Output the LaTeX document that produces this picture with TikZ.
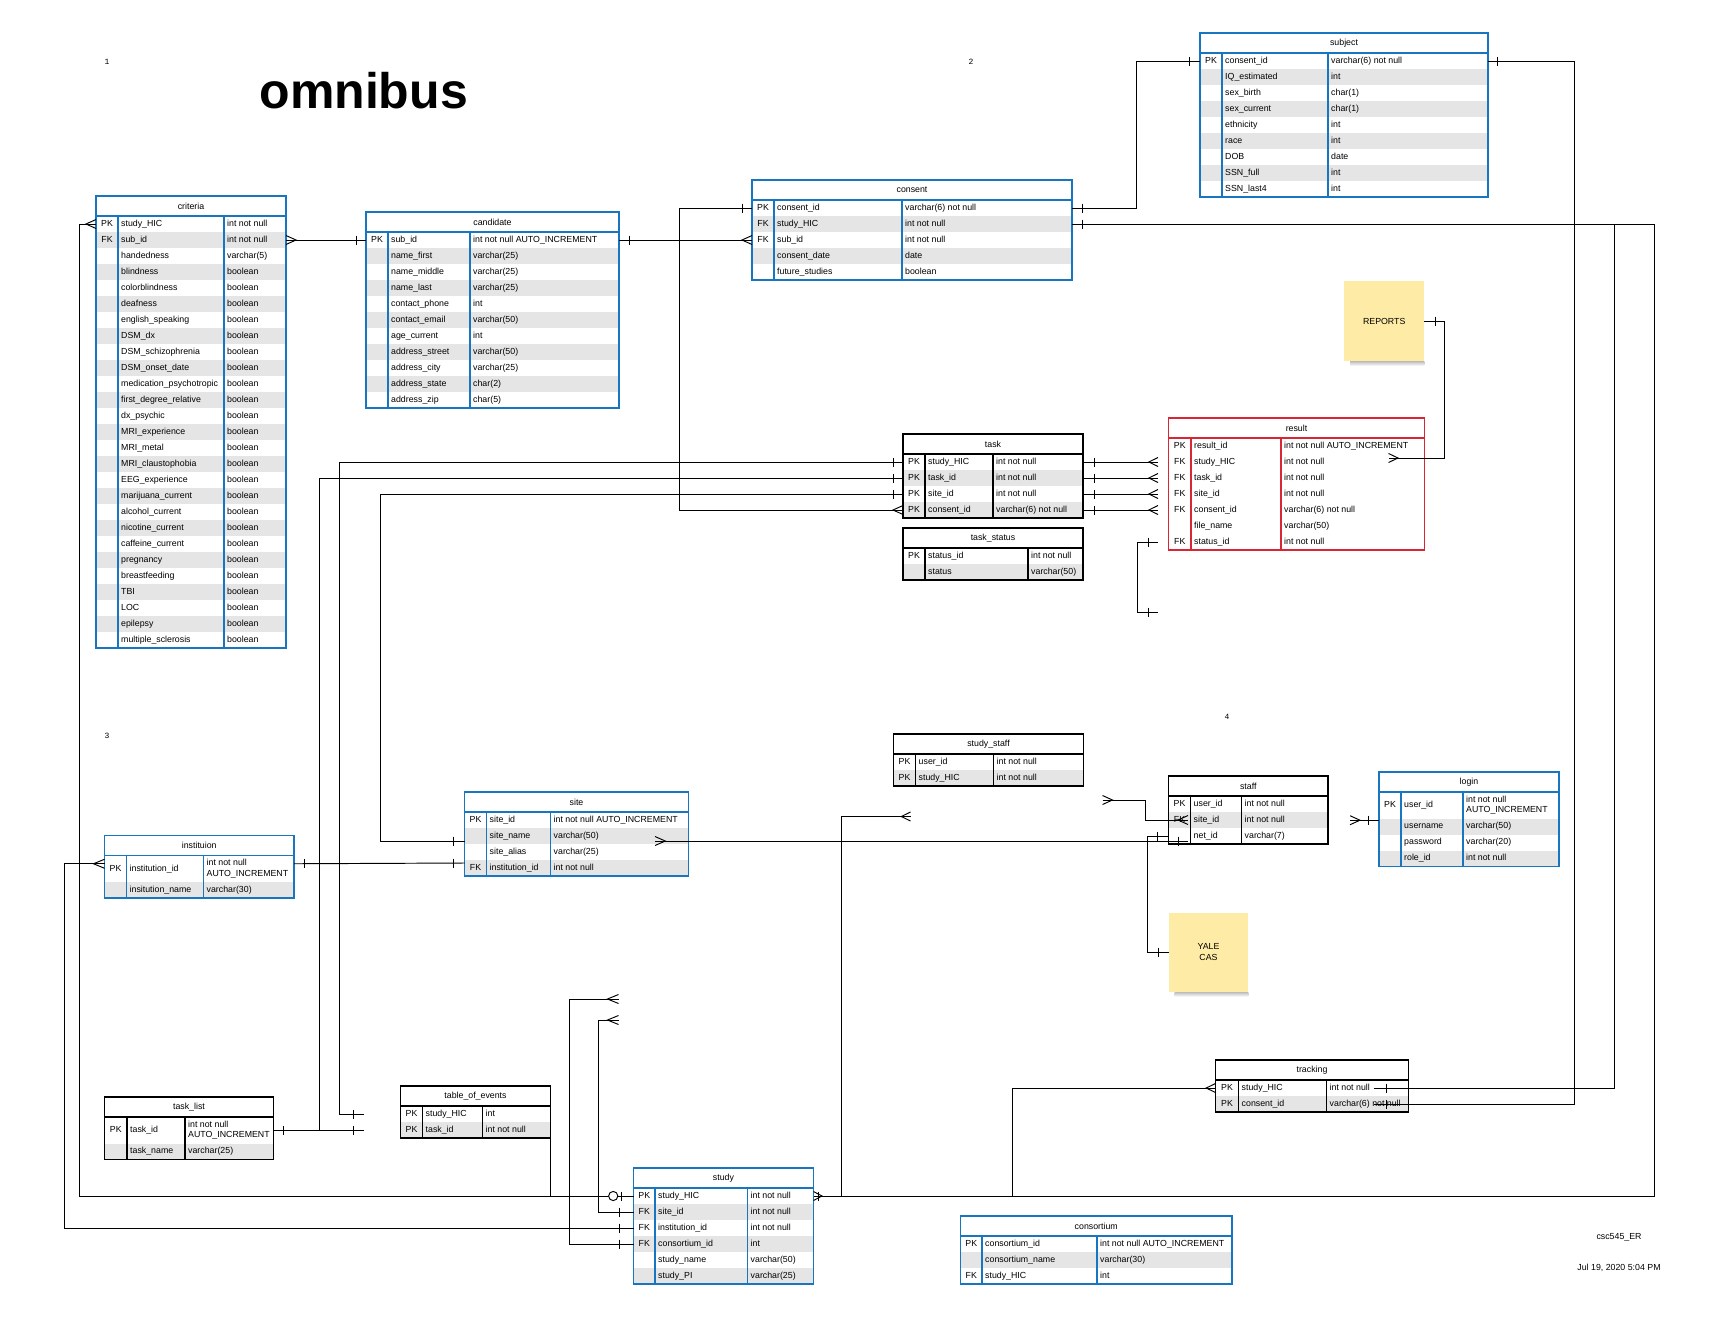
\documentclass[tikz,border=0pt]{standalone}
\usepackage{fontspec}
\setmainfont{Liberation Sans}
\setmonofont{Liberation Mono}
\usetikzlibrary{calc}

\definecolor{erblue}{RGB}{24,118,192}
\definecolor{erred}{RGB}{218,38,52}
\definecolor{erstripe}{RGB}{229,229,229}
\definecolor{notebg}{RGB}{254,236,166}

\newcommand\cellfont{\fontsize{8.8}{10.6}\selectfont}
\newcommand\twoline[2]{\begin{tabular}[c]{@{}l@{}}#1\\#2\end{tabular}}
\def\pkh{16}
\def\stripecol{erstripe}

\tikzset{
  erline/.style={line width=0.95pt, black},
  tablebox/.style={line width=1.15pt},
  hdrbox/.style={anchor=north west, inner sep=0pt, outer sep=0pt, minimum height=20pt, font=\cellfont},
  rowbox/.style={anchor=north west, inner sep=0pt, outer sep=0pt, draw=none},
  cell/.style={anchor=west, inner sep=0pt, font=\cellfont, text height=6.4pt, text depth=1.9pt},
  note/.style={anchor=north west, fill=notebg, inner sep=0pt, font=\cellfont, align=center},
  tag/.style={inner sep=0pt, font=\cellfont},
}

% one table: name, colour, left, top, divider 1, divider 2, right, title, rows
\newcommand\ertable[9]{%
  \pgfmathsetmacro\tw{#7-#3}
  \node[hdrbox, minimum width=\tw pt] (#1) at (#3,#4) {#8};
  \foreach \colk/\colf/\colt [count=\i] in {#9} {
    \pgfmathsetmacro\rh{\i==1 ? \pkh : 16}
    \pgfmathsetmacro\rtop{#4+20+(\i>1)*(\pkh+(\i-2)*16)}
    \pgfmathsetmacro\rmid{\rtop+\rh/2}
    \ifodd\i \edef\rfill{white}\else \edef\rfill{\stripecol}\fi
    \node[rowbox, fill=\rfill, minimum width=\tw pt, minimum height=\rh pt] (#1-\i) at (#3,\rtop) {};
    \node[cell, anchor=center] at ({(#3+#5)/2},\rmid) {\colk};
    \node[cell] at (#5+3,\rmid) {\colf};
    \node[cell] at (#6+3,\rmid) {\colt};
    \xdef\lastrow{\i}
  }
  \draw[#2, tablebox] (#1.north west) rectangle (#1-\lastrow.south east);
  \draw[#2, tablebox] (#1.south west) -- (#1.south east)
    (#5,#4+20) -- (#5,0 |- #1-\lastrow.south)
    (#6,#4+20) -- (#6,0 |- #1-\lastrow.south);
}

% one bar, x offset #2 from #1
\newcommand\erbar[2]{\draw[erline] ($(#1)+(#2,-4.5)$) -- ($(#1)+(#2,4.5)$);}
% crow's foot, prongs at #1, point at x offset #2
\newcommand\erfoot[2]{\draw[erline] ($(#1)+(0,-4.5)$) -- ($(#1)+(#2,0)$) -- ($(#1)+(0,4.5)$);}

\begin{document}
\begin{tikzpicture}[x=1pt,y=-1pt]
\useasboundingbox (0,0) rectangle (1728,1328);
\fill[white] (0,0) rectangle (1728,1328);

%title and page marks
\node[font=\fontsize{50}{56}\selectfont\bfseries, anchor=base] (title) at (363.7,108) {omnibus};
\node[font=\ttfamily\fontsize{8}{9}\selectfont] (mark1) at (107,62) {1};
\node[font=\ttfamily\fontsize{8}{9}\selectfont] (mark2) at (971,62) {2};
\node[font=\ttfamily\fontsize{8}{9}\selectfont] (mark3) at (107,736) {3};
\node[font=\ttfamily\fontsize{8}{9}\selectfont] (mark4) at (1227,717) {4};
\node[tag] (erlabel) at (1619,1237.5) {csc545\_ER};
\node[tag] (erdate) at (1619,1267.5) {Jul 19, 2020 5:04 PM};

%tables
\ertable{criteria}{erblue}{96}{196}{118}{224}{286}{criteria}{
  PK/study\_HIC/int not null,
  FK/sub\_id/int not null,
  /handedness/varchar(5),
  /blindness/boolean,
  /colorblindness/boolean,
  /deafness/boolean,
  /english\_speaking/boolean,
  /DSM\_dx/boolean,
  /DSM\_schizophrenia/boolean,
  /DSM\_onset\_date/boolean,
  /medication\_psychotropic/boolean,
  /first\_degree\_relative/boolean,
  /dx\_psychic/boolean,
  /MRI\_experience/boolean,
  /MRI\_metal/boolean,
  /MRI\_claustophobia/boolean,
  /EEG\_experience/boolean,
  /marijuana\_current/boolean,
  /alcohol\_current/boolean,
  /nicotine\_current/boolean,
  /caffeine\_current/boolean,
  /pregnancy/boolean,
  /breastfeeding/boolean,
  /TBI/boolean,
  /LOC/boolean,
  /epilepsy/boolean,
  /multiple\_sclerosis/boolean}

\ertable{candidate}{erblue}{366}{212}{388}{470}{619}{candidate}{
  PK/sub\_id/int not null AUTO\_INCREMENT,
  /name\_first/varchar(25),
  /name\_middle/varchar(25),
  /name\_last/varchar(25),
  /contact\_phone/int,
  /contact\_email/varchar(50),
  /age\_current/int,
  /address\_street/varchar(50),
  /address\_city/varchar(25),
  /address\_state/char(2),
  /address\_zip/char(5)}

\ertable{consent}{erblue}{752}{180}{774}{902}{1072}{consent}{
  PK/consent\_id/varchar(6) not null,
  FK/study\_HIC/int not null,
  FK/sub\_id/int not null,
  /consent\_date/date,
  /future\_studies/boolean}

\ertable{subject}{erblue}{1200}{33}{1222}{1328}{1488}{subject}{
  PK/consent\_id/varchar(6) not null,
  /IQ\_estimated/int,
  /sex\_birth/char(1),
  /sex\_current/char(1),
  /ethnicity/int,
  /race/int,
  /DOB/date,
  /SSN\_full/int,
  /SSN\_last4/int}

\ertable{task}{black}{903}{434}{925}{993}{1083}{task}{
  PK/study\_HIC/int not null,
  PK/task\_id/int not null,
  PK/site\_id/int not null,
  PK/consent\_id/varchar(6) not null}

\ertable{tstatus}{black}{903}{528}{925}{1028}{1083}{task\_status}{
  PK/status\_id/int not null,
  /status/varchar(50)}

\def\stripecol{white}
\ertable{result}{erred}{1168.5}{418}{1191}{1281}{1424.5}{result}{
  PK/result\_id/int not null AUTO\_INCREMENT,
  FK/study\_HIC/int not null,
  FK/task\_id/int not null,
  FK/site\_id/int not null,
  FK/consent\_id/varchar(6) not null,
  /file\_name/varchar(50),
  FK/status\_id/int not null}
\def\stripecol{erstripe}

\ertable{sstaff}{black}{893.5}{734}{915.5}{993.5}{1083.5}{study\_staff}{
  PK/user\_id/int not null,
  PK/study\_HIC/int not null}

\ertable{staff}{black}{1168.5}{776}{1190.5}{1241.5}{1328}{staff}{
  PK/user\_id/int not null,
  FK/site\_id/int not null,
  /net\_id/varchar(7)}

\def\pkh{26.5}
\ertable{login}{erblue}{1379}{772}{1401}{1463}{1559}{login}{
  PK/user\_id/\twoline{int not null}{AUTO\_INCREMENT},
  /username/varchar(50),
  /password/varchar(20),
  /role\_id/int not null}
\def\pkh{16}

\ertable{site}{erblue}{464.5}{792}{486.5}{550.5}{688.5}{site}{
  PK/site\_id/int not null AUTO\_INCREMENT,
  /site\_name/varchar(50),
  /site\_alias/varchar(25),
  FK/institution\_id/int not null}

\def\pkh{26.5}
\ertable{instituion}{erblue}{104.5}{835.5}{126.5}{203.5}{294}{instituion}{
  PK/institution\_id/\twoline{int not null}{AUTO\_INCREMENT},
  /insitution\_name/varchar(30)}

\ertable{tasklist}{black}{104.5}{1097}{127}{185}{273.5}{task\_list}{
  PK/task\_id/\twoline{int not null}{AUTO\_INCREMENT},
  /task\_name/varchar(25)}
\def\pkh{16}

\ertable{events}{black}{400.5}{1086}{422.5}{482.5}{550.5}{table\_of\_events}{
  PK/study\_HIC/int,
  PK/task\_id/int not null}

\ertable{study}{erblue}{633.5}{1168}{655}{747.5}{813.5}{study}{
  PK/study\_HIC/int not null,
  FK/site\_id/int not null,
  FK/institution\_id/int not null,
  FK/consortium\_id/int,
  /study\_name/varchar(50),
  /study\_PI/varchar(25)}

\ertable{consortium}{erblue}{960.5}{1216}{982}{1097}{1232}{consortium}{
  PK/consortium\_id/int not null AUTO\_INCREMENT,
  /consortium\_name/varchar(30),
  FK/study\_HIC/int}

\ertable{tracking}{black}{1215.5}{1060}{1238.5}{1326.5}{1408.5}{tracking}{
  PK/study\_HIC/int not null,
  PK/consent\_id/varchar(6) not null}

%sticky notes
\node[note, minimum width=80pt, minimum height=80pt] (reports) at (1344,281) {REPORTS};
\shade[top color=black!25, bottom color=white] ($(reports.south west)+(6,0)$) rectangle ($(reports.south east)+(0,4.5)$);
\node[note, minimum width=79.5pt, minimum height=79.5pt] (yale) at (1168.5,912.3) {YALE\\CAS};
\shade[top color=black!25, bottom color=white] ($(yale.south west)+(6,0)$) rectangle ($(yale.south east)+(0,4.5)$);

%free ends
\coordinate (inst-w) at ($(instituion-1.west)+(0,-5)$);
\coordinate (inst-e) at ($(instituion-1.east)+(0,-5)$);
\coordinate (site-fk) at ($(site-4.west)+(0,-5)$);
\coordinate (site-in) at ($(site-2.west)+(0,5)$);
\coordinate (site-many) at ($(site-2.east)+(-33.5,5)$);
\coordinate (events-end1) at ($(events-1.west)+(-37,0)$);
\coordinate (events-end2) at ($(events-2.west)+(-37,0)$);
\coordinate (trk-a) at ($(tracking-1.east)+(-34.5,0)$);
\coordinate (trk-b) at ($(tracking-2.east)+(-34.5,0)$);
\coordinate (ss-foot) at ($(sstaff-2.south west)+(17,30.5)$);
\coordinate (res-7) at ($(result-7.west)+(-10.5,0)$);
\coordinate (res-x) at ($(res-7)+(0,70)$);
\coordinate (res-rep) at ($(result-2.east)+(-36,-4)$);
\coordinate (sf-a) at ($(staff-1.west)+(-66,-4)$);
\coordinate (sf-b) at ($(staff-2.west)+(19.5,0)$);
\coordinate (staff-net) at ($(staff-3.west)+(19.5,5)$);
\coordinate (login-in) at ($(login-1.south west)+(0,1.7)$);
\coordinate (login-many) at ($(login-in)+(-29,0)$);
\coordinate (st-foot1) at ($(study-4.west)+(-15,-245)$);
\coordinate (st-foot2) at ($(study-2.west)+(-15,-192)$);

%criteria - candidate - consent
\draw[erline] (criteria-2.east) -- (candidate-1.west);
\erfoot{criteria-2.east}{10}
\erbar{candidate-1.west}{-10}
\draw[erline] (candidate-1.east) -- (consent-3.west);
\erbar{candidate-1.east}{10}
\erfoot{consent-3.west}{-10}

%consent - task, subject
\draw[erline] (consent-1.west) -- ++(-73,0) |- (task-4.west);
\erbar{consent-1.west}{-10}
\erfoot{task-4.west}{-10}
\draw[erline] (consent-1.east) -- ++(64,0) |- (subject-1.west);
\erbar{consent-1.east}{10}
\erbar{subject-1.west}{-11}

%consent study_HIC - study, tracking
\draw[erline] (consent-2.east) -- ++(582,0) |- (study-1.east);
\draw[erline] ($(consent-2.east)+(542,0)$) |- (trk-a);
\erbar{consent-2.east}{10}
\erbar{trk-a}{12.4}
\erfoot{study-1.east}{8.5}
\erbar{study-1.east}{5}

%subject - tracking
\draw[erline] (subject-1.east) -- ++(86,0) |- (trk-b);
\erbar{subject-1.east}{9}
\erbar{trk-b}{12.4}

%tracking - study
\draw[erline] (tracking-1.west) -- ++(-203.5,0) |- (study-1.east);
\erfoot{tracking-1.west}{-9.3}
\draw[erline] ($(study-1.east)+(28,0)$) |- (ss-foot);
\erfoot{ss-foot}{-9.2}

%criteria - study
\draw[erline] (criteria-1.west) -- ++(-17,0) |- (study-1.west);
\erfoot{criteria-1.west}{-10}
\draw[erline] (events-2.south east) |- (study-1.west);
\draw[erline, fill=white] ($(study-1.west)+(-20.3,0)$) circle[radius=4.6pt];
\erbar{study-1.west}{-12}

%instituion - site, study
\draw[erline] (inst-e) -- (site-fk);
\erbar{inst-e}{10}
\erbar{site-fk}{-11.5}
\draw[erline] (inst-w) -- ++(-40.5,0) |- (study-3.west);
\erfoot{inst-w}{-11}
\erbar{study-3.west}{-14.5}

%task - table_of_events, task_list, site
\draw[erline] (events-end1) -- ++(-24,0) |- (task-1.west);
\erbar{events-end1}{-9.7}
\erbar{task-1.west}{-10}
\draw[erline] (tasklist-1.east) -- (tasklist-1.east -| events-end2);
\erbar{tasklist-1.east}{10}
\erbar{events-end2}{-9.7}
\draw[erline] (task-2.west) -| ($(tasklist-1.east)+(46,0)$);
\erbar{task-2.west}{-10}
\draw[erline] (task-3.west) -- ++(-523,0) |- (site-in);
\erbar{task-3.west}{-10}
\erbar{site-in}{-11.5}

%task - result
\foreach \i/\j in {1/2,2/3,3/4,4/5} {
  \coordinate (res-\j) at ($(result-\j.west)+(-10.5,0)$);
  \draw[erline] (task-\i.east) -- (task-\i.east -| res-\j);
  \erbar{task-\i.east}{11}
  \erfoot{res-\j}{-9.2}
}
\draw[erline] (res-7) -- ++(-20.3,0) |- (res-x);
\erbar{res-7}{-10}
\erbar{res-x}{-10}

%reports
\draw[erline] (reports.east) -- ++(20.4,0) |- (res-rep);
\erbar{reports.east}{11}
\erfoot{res-rep}{9.5}

%staff
\draw[erline] (sf-a) -- ++(43.2,0) |- (sf-b);
\erfoot{sf-a}{10}
\erfoot{sf-b}{-10}
\draw[erline] (site-many) -- (staff-net);
\erfoot{site-many}{10.3}
\erbar{staff-net}{-10}
\draw[erline] (staff-3.west) -- ++(-21,0) |- (yale.west);
\erbar{staff-3.west}{-10.7}
\erbar{yale.west}{-10}

%login
\draw[erline] (login-many) -- (login-in);
\erfoot{login-many}{10}
\erbar{login-in}{-11}

%study site_id, consortium_id
\draw[erline] (st-foot1) -- ++(-49,0) |- (study-4.west);
\draw[erline] (st-foot2) -- ++(-20,0) |- (study-2.west);
\erfoot{st-foot1}{-11}
\erfoot{st-foot2}{-11}
\erbar{study-2.west}{-14.5}
\erbar{study-4.west}{-14.5}
\end{tikzpicture}
\end{document}
